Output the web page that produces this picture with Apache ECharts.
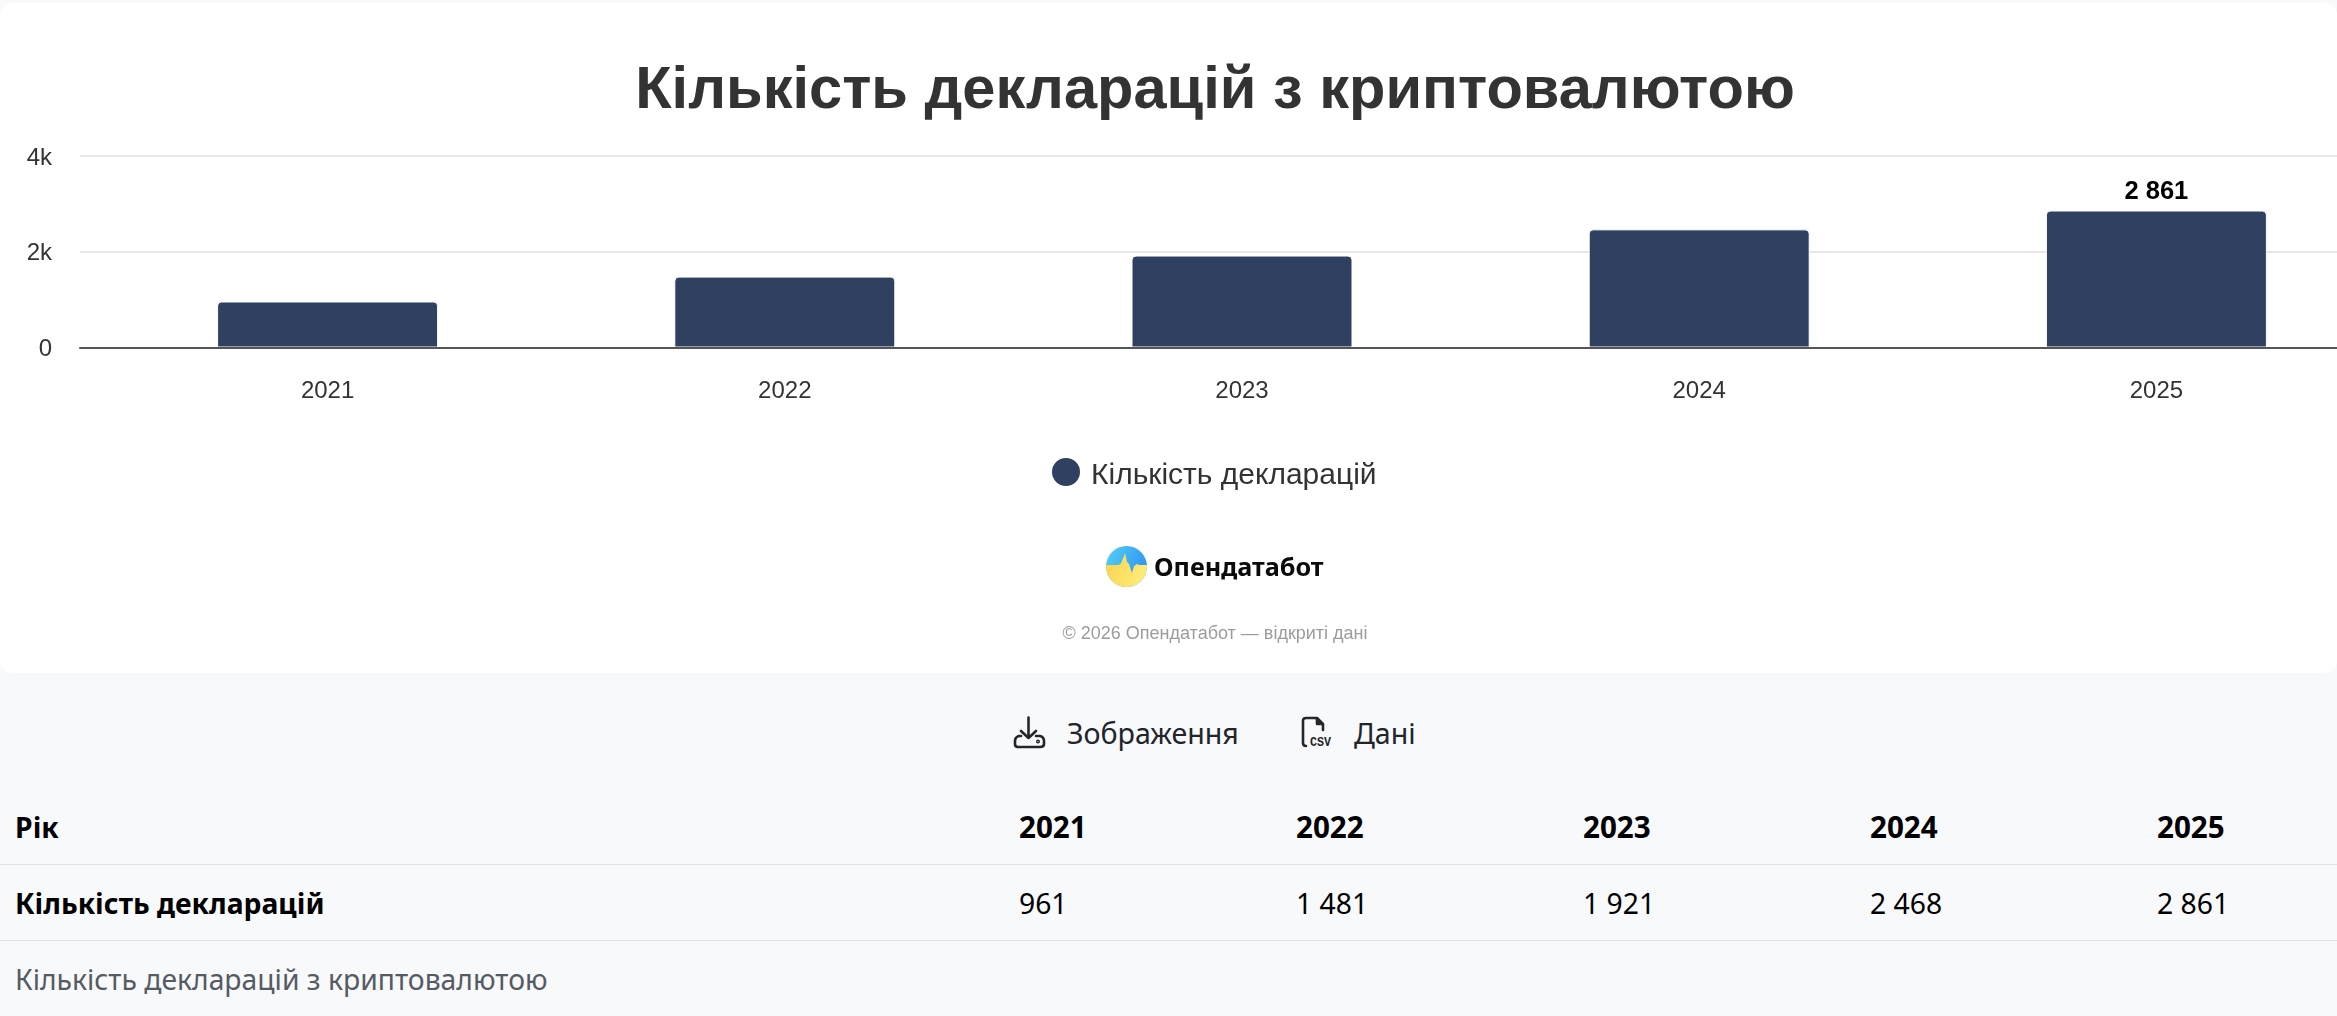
<!DOCTYPE html>
<html lang="uk">
<head>
<meta charset="utf-8">
<title>Кількість декларацій з криптовалютою</title>
<script src="https://cdn.jsdelivr.net/npm/echarts@6/dist/echarts.min.js"></script>
<style>
  html, body { margin: 0; padding: 0; width: 2337px; height: 1016px; overflow: hidden; background: #f8f9fb; }
  #card { position: absolute; left: 0; top: 3px; width: 2337px; height: 670px; background: #fff; border-radius: 12px; }
  #chart { position: absolute; left: 0; top: 0; width: 2400px; height: 673px; }
  .brand { position: absolute; left: 1154px; top: 545px; font: 700 25.2px "Noto Sans", sans-serif; color: #0b0b0b; line-height: 42px; }
  .copy { position: absolute; left: 0; width: 2430px; top: 622px; text-align: center; font: 18px "Liberation Sans", sans-serif; color: #9c9c9c; line-height: 22px; }
  .btn { position: absolute; top: 714px; font: 28.6px "Noto Sans", sans-serif; color: #212529; line-height: 38px; }
  .cell { position: absolute; font: 28.3px "Noto Sans", sans-serif; color: #000; line-height: 38px; white-space: nowrap; }
  .cell.b { font-weight: 700; }
  .cell.year { font-size: 29.6px; }
  .rule { position: absolute; left: 0; width: 2337px; height: 1px; background: #dee2e6; }
  svg { position: absolute; overflow: visible; }
</style>
</head>
<body>
<div id="card"></div>
<div id="chart"></div>

<svg style="left:1105.5px;top:546px" width="42" height="42" viewBox="0 0 42 42">
  <defs>
    <linearGradient id="sky" x1="0" y1="0" x2="1" y2="0.4"><stop offset="0" stop-color="#56d0f5"/><stop offset="1" stop-color="#2f97f0"/></linearGradient>
    <linearGradient id="sun" x1="0" y1="0" x2="1" y2="0.3"><stop offset="0" stop-color="#fbd24e"/><stop offset="1" stop-color="#fdec78"/></linearGradient>
    <clipPath id="disc"><circle cx="20.5" cy="20.5" r="20.5"/></clipPath>
  </defs>
  <g clip-path="url(#disc)">
    <rect width="42" height="42" fill="url(#sky)"/>
    <path d="M0 19 H12 L14.5 18 L16 15 L19 7 L21 16 L23 18 L26 27 L28 20 L31 18 L33 19 H42 V42 H0 Z" fill="url(#sun)"/>
  </g>
</svg>
<div class="brand">Опендатабот</div>
<div class="copy">© 2026 Опендатабот — відкриті дані</div>

<svg style="left:1012px;top:716px" width="34" height="32" viewBox="0 0 34 32" fill="none" stroke="#23272b" stroke-width="2.6" stroke-linecap="round" stroke-linejoin="round">
  <path d="M16.5 1.5 V22 M9 15 L16.5 22 L24 15"/>
  <path d="M9 20 H7 Q3 21 3 25 V28 Q3 31 6 31 H28 Q32 31 32 28 V25 Q32 21 28 20 H24"/>
  <circle cx="26" cy="25.5" r="0.7"/>
</svg>
<div class="btn" style="left:1067px">Зображення</div>

<svg style="left:1300px;top:716px" width="34" height="32" viewBox="0 0 34 32" fill="none" stroke="#23272b" stroke-width="2.6" stroke-linecap="round" stroke-linejoin="round">
  <path d="M6 30 Q3 30 3 27 V5 Q3 2 6 2 H17 L23 8 V14"/>
  <path d="M17 3 L22 8 H17 Z" fill="#23272b"/>
  <text x="10" y="30" font-family="Liberation Mono" font-weight="700" font-size="13" textLength="21" lengthAdjust="spacingAndGlyphs" fill="#23272b" stroke="none">CSV</text>
</svg>
<div class="btn" style="left:1354px">Дані</div>

<div id="table"></div>

<script>
// Річні показники
const years = ['2021', '2022', '2023', '2024', '2025'];
const declarations = [961, 1481, 1921, 2468, 2861];
const valueTicks = [0, 2000, 4000];
const seriesName = 'Кількість декларацій';
const chartTitle = 'Кількість декларацій з криптовалютою';
const yearHeader = 'Рік';

const spaced = v => String(v).replace(/\B(?=(\d{3})+$)/g, ' ');

const chart = echarts.init(document.getElementById('chart'), null, { renderer: 'canvas' });

const FONT = '"Liberation Sans", Arial, sans-serif';
const PLOT_TOP = 156;
const PLOT_HEIGHT = 191.5;

chart.setOption({
  animation: false,
  backgroundColor: 'transparent',
  title: {
    text: chartTitle,
    left: 1210,
    top: 57,
    textAlign: 'center',
    textStyle: { fontFamily: FONT, fontSize: 59.6, fontWeight: 700, color: '#333333' }
  },
  legend: {
    data: [seriesName],
    left: 1045,
    top: 451,
    icon: 'circle',
    itemWidth: 30,
    itemHeight: 30,
    selectedMode: false,
    formatter: name => '{t|' + name + '}',
    textStyle: {
      rich: { t: { fontFamily: FONT, fontSize: 30, color: '#333333', padding: [8, 0, 0, 5] } }
    }
  },
  grid: [
    // Сітка значень і базова лінія на всю ширину
    { left: 80, right: 0, top: PLOT_TOP, height: PLOT_HEIGHT },
    // Смуги категорій виходять за правий край сторінки
    { left: 99, width: 2286, top: PLOT_TOP, height: PLOT_HEIGHT }
  ],
  xAxis: [
    {
      gridIndex: 0, type: 'value', min: 0, max: 1, z: 10,
      axisLine: { show: true, onZero: false, lineStyle: { color: '#555555', width: 2 } },
      axisTick: { show: false }, axisLabel: { show: false }, splitLine: { show: false }
    },
    {
      gridIndex: 1, type: 'category', data: years,
      axisLine: { show: false }, axisTick: { show: false },
      axisLabel: { margin: 31.5, interval: 0, fontFamily: FONT, fontSize: 24, color: '#333333' }
    }
  ],
  yAxis: [
    {
      gridIndex: 0, type: 'value', min: 0, max: 4000, interval: 2000,
      axisLine: { show: false }, axisTick: { show: false },
      splitLine: { lineStyle: { color: '#e6e6e6', width: 2 } },
      axisLabel: {
        margin: 28,
        customValues: valueTicks,
        formatter: v => '{v|' + (v === 0 ? '0' : (v / 1000) + 'k') + '}',
        rich: { v: { fontFamily: FONT, fontSize: 24, color: '#333333', padding: [4, 0, 0, 0] } }
      }
    },
    {
      gridIndex: 1, type: 'value', min: 0, max: 4000, interval: 2000,
      axisLine: { show: false }, axisTick: { show: false },
      axisLabel: { show: false }, splitLine: { show: false }
    }
  ],
  series: [{
    name: seriesName,
    type: 'bar',
    xAxisIndex: 1,
    yAxisIndex: 1,
    barWidth: 221,
    z: 5,
    itemStyle: { color: '#304060', borderColor: '#ffffff', borderWidth: 1, borderRadius: [4, 4, 0, 0] },
    label: {
      show: true,
      position: 'top',
      distance: 6,
      fontFamily: FONT,
      fontSize: 25.5,
      fontWeight: 700,
      color: '#000000',
      formatter: p => (p.dataIndex === declarations.length - 1 ? spaced(p.value) : '')
    },
    data: declarations
  }]
});

// Таблиця даних під графіком
const table = document.getElementById('table');
const columns = [1019, 1296, 1583, 1870, 2157];
const addCell = (text, left, top, cls, color) => {
  const el = document.createElement('div');
  el.className = 'cell ' + cls;
  el.style.left = left + 'px';
  el.style.top = top + 'px';
  if (color) el.style.color = color;
  el.textContent = text;
  table.appendChild(el);
};
const addRule = top => {
  const el = document.createElement('div');
  el.className = 'rule';
  el.style.top = top + 'px';
  table.appendChild(el);
};
addCell(yearHeader, 15, 808, 'b');
years.forEach((y, i) => addCell(y, columns[i], 808, 'b year'));
addRule(864);
addCell(seriesName, 15, 884, 'b');
declarations.forEach((v, i) => addCell(spaced(v), columns[i], 884, ''));
addRule(940);
addCell(chartTitle, 15, 960, '', '#555b63');
</script>
</body>
</html>
